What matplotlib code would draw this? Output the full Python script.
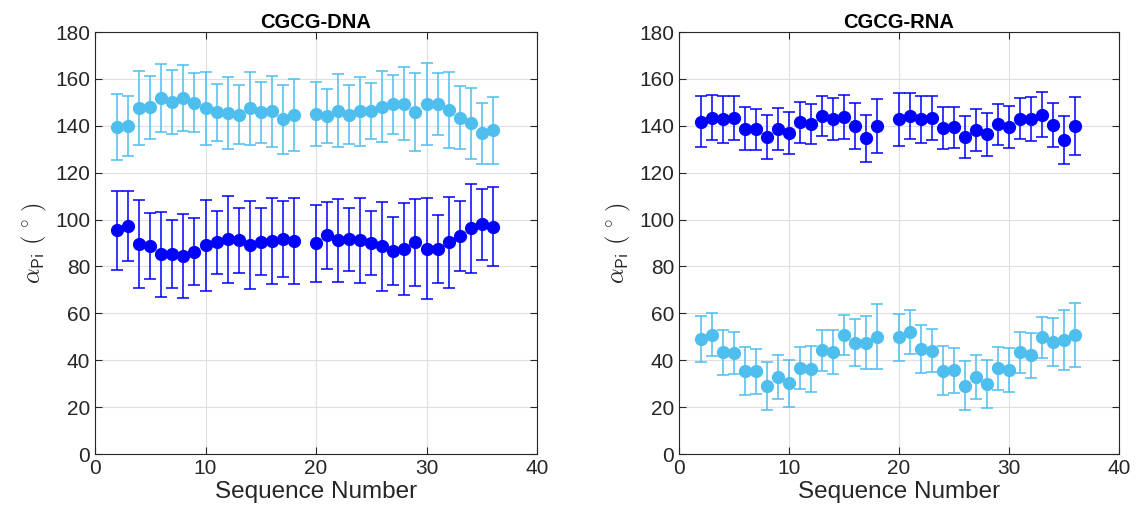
import numpy as np
import matplotlib
matplotlib.use('Agg')
import matplotlib.pyplot as plt

plt.rcParams['font.family'] = ['Liberation Sans', 'DejaVu Sans']
plt.rcParams['mathtext.fontset'] = 'cm'

seq = [2, 3, 4, 5, 6, 7, 8, 9, 10, 11, 12, 13, 14, 15, 16, 17, 18,
       20, 21, 22, 23, 24, 25, 26, 27, 28, 29, 30, 31, 32, 33, 34, 35, 36]

# CGCG-DNA
dna_hi = [139.4, 140.0, 147.7, 147.8, 151.9, 150.1, 151.9, 149.8, 147.5, 145.7, 145.4, 144.8,
          147.5, 145.8, 146.1, 142.7, 144.7,
          145.0, 144.3, 146.4, 144.7, 146.1, 146.2, 148.1, 149.2, 149.4, 145.8, 149.2, 149.2,
          146.9, 143.4, 141.0, 136.9, 138.0]
dna_hi_err = [14.0, 12.8, 15.8, 13.5, 14.5, 13.8, 14.0, 12.6, 15.6, 12.0, 15.4, 12.4,
              15.6, 13.0, 15.1, 14.7, 15.4,
              13.7, 11.6, 15.5, 12.6, 14.9, 12.0, 15.2, 12.6, 15.6, 16.7, 17.6, 13.3,
              16.2, 13.5, 15.1, 13.0, 14.3]
dna_lo = [95.4, 97.2, 89.6, 88.6, 85.1, 85.2, 84.6, 86.3, 89.0, 90.3, 91.5, 91.2,
          89.2, 90.6, 90.8, 91.7, 90.9,
          89.8, 93.3, 91.2, 91.5, 91.2, 90.0, 88.6, 86.6, 87.5, 90.3, 87.5, 87.5,
          90.3, 92.9, 96.3, 98.0, 97.0]
dna_lo_err = [16.8, 15.0, 18.6, 14.1, 18.0, 14.4, 17.9, 14.3, 19.4, 13.5, 18.7, 13.8,
              18.8, 14.2, 18.4, 16.2, 18.5,
              16.3, 14.2, 17.7, 13.6, 18.2, 13.8, 18.9, 14.4, 19.5, 18.6, 21.5, 14.4,
              19.4, 14.9, 18.9, 15.1, 16.9]

# CGCG-RNA
rna_hi = [141.8, 143.5, 142.7, 143.5, 138.7, 138.5, 135.2, 138.6, 136.9, 141.4, 140.7, 144.2,
          142.8, 143.8, 140.0, 134.6, 140.0,
          142.7, 144.1, 142.7, 143.5, 139.0, 139.3, 135.2, 138.3, 136.3, 140.7, 139.6, 143.1,
          142.8, 144.8, 140.3, 134.1, 139.9]
rna_hi_err = [11.0, 9.6, 10.0, 9.4, 9.2, 8.8, 9.2, 9.0, 9.0, 8.8, 8.6, 8.6,
              9.0, 9.3, 9.7, 10.0, 11.5,
              11.4, 9.8, 9.9, 9.4, 9.1, 8.8, 9.1, 9.0, 9.1, 8.8, 8.9, 8.9,
              9.3, 9.5, 9.4, 10.2, 12.2]
rna_lo = [49.1, 50.9, 43.3, 43.1, 35.3, 35.3, 28.9, 33.0, 30.2, 36.7, 36.3, 44.3,
          43.5, 50.9, 47.5, 47.5, 50.1,
          49.8, 52.1, 44.7, 44.1, 35.5, 35.7, 29.2, 33.0, 29.9, 36.5, 35.9, 43.4,
          42.1, 49.8, 47.7, 48.7, 50.6]
rna_lo_err = [9.8, 9.3, 9.8, 8.9, 10.2, 9.7, 10.2, 9.4, 10.0, 9.0, 9.7, 8.8,
              9.4, 8.6, 10.1, 11.3, 14.0,
              10.1, 9.4, 10.3, 9.2, 10.4, 9.5, 10.4, 9.4, 10.4, 9.2, 9.4, 8.7,
              9.6, 8.7, 10.1, 12.9, 13.6]

dark = '#0000FF'
light = '#4DBEEE'

fig = plt.figure(figsize=(11.39, 5.27), dpi=100)
ax1 = fig.add_axes([95/1139, 73/527, 442/1139, 422/527])
ax2 = fig.add_axes([679/1139, 73/527, 440/1139, 422/527])

panels = [
    (ax1, 'CGCG-DNA', [(dna_hi, dna_hi_err, light), (dna_lo, dna_lo_err, dark)]),
    (ax2, 'CGCG-RNA', [(rna_hi, rna_hi_err, dark), (rna_lo, rna_lo_err, light)]),
]

for ax, title, series in panels:
    for vals, err, col in series:
        ax.errorbar(seq, vals, yerr=err, fmt='o', color=col, ecolor=col,
                    markersize=8.5, elinewidth=1.1, capsize=4.5, capthick=1.1)
    ax.set_xlim(0, 40)
    ax.set_ylim(0, 180)
    ax.set_xticks(np.arange(0, 41, 10))
    ax.set_yticks(np.arange(0, 181, 20))
    ax.grid(True, color='#dfdfdf', linewidth=0.8)
    ax.set_axisbelow(True)
    ax.tick_params(direction='in', top=True, right=True, labelsize=15,
                   colors='#262626', length=5, width=0.8)
    for sp in ax.spines.values():
        sp.set_color('#262626')
        sp.set_linewidth(0.8)
    ax.set_title(title, fontsize=14.5, fontweight='bold', pad=3)
    ax.set_xlabel('Sequence Number', fontsize=17.5, color='#262626', labelpad=2)
    ax.set_ylabel(r'$\alpha_{\mathsf{Pi}}\ (\,^\circ\,)$', fontsize=17.5,
                  color='#262626', labelpad=4)

fig.savefig('out.png', dpi=100)
